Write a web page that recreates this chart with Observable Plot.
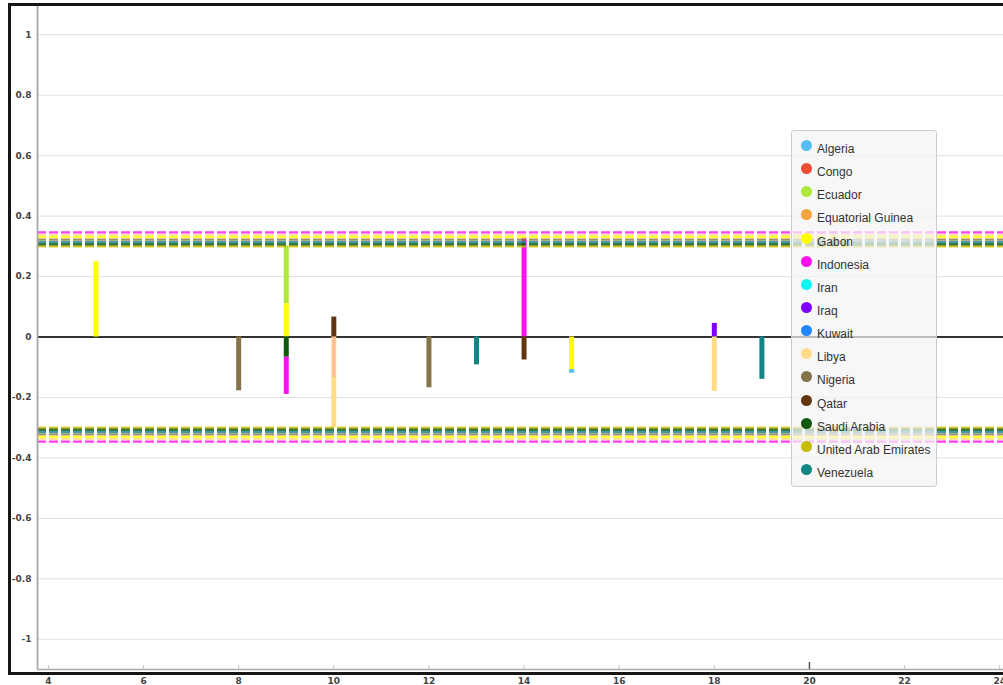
<!DOCTYPE html>
<html>
<head>
<meta charset="utf-8">
<script src="https://cdn.jsdelivr.net/npm/d3@7"></script>
<script src="https://cdn.jsdelivr.net/npm/@observablehq/plot@0.6"></script>
<style>
  body { margin: 0; background: #fff; }
  #wrap { position: relative; width: 1003px; height: 685px; overflow: hidden; }
  #wrap svg { position: absolute; left: 0; top: 0; }
  #frame { position: absolute; left: 8px; top: 3px; width: 1010px; height: 672px;
           border: 3px solid #161616; box-sizing: border-box; pointer-events: none; }
  #legend { position: absolute; left: 791px; top: 130px; width: 146px; height: 357px;
            background: rgba(244,244,244,0.72); border: 1px solid #cdcdcd; border-radius: 3px;
            box-sizing: border-box; font: 12px "Liberation Sans", Arial, sans-serif; color: #333; }
  .item { position: absolute; left: 0; width: 100%; height: 16px; }
  .dot { position: absolute; left: 9px; width: 11px; height: 11px; border-radius: 50%; }
  .lbl { position: absolute; left: 25px; white-space: nowrap; line-height: 16px; }
</style>
</head>
<body>
<div id="wrap">
  <div id="chart"></div>
  <div id="frame"></div>
  <div id="legend"></div>
</div>
<script>
// Member countries and their series colours
const countries = ["Algeria", "Congo", "Ecuador", "Equatorial Guinea", "Gabon", "Indonesia", "Iran",
  "Iraq", "Kuwait", "Libya", "Nigeria", "Qatar", "Saudi Arabia", "United Arab Emirates", "Venezuela"];
const colors = ["#55bff5", "#ef4b35", "#aee83c", "#f4a43c", "#ffff00", "#ff10f0", "#10f4f4",
  "#8000ff", "#1f86ff", "#ffdc88", "#857349", "#64360f", "#0f560f", "#c7bd00", "#128585"];

// Bar segments: position, country, segment start and end
const segX       = [5, 8, 9, 9, 9, 9, 10, 10, 12, 13, 14, 14, 15, 15, 18, 18, 19];
const segCountry = ["Gabon", "Nigeria", "Ecuador", "Gabon", "Saudi Arabia", "Indonesia", "Qatar", "Libya",
  "Nigeria", "Venezuela", "Indonesia", "Qatar", "Gabon", "Algeria", "Iraq", "Libya", "Venezuela"];
const segFrom    = [0, 0, 0.11, 0, 0, -0.067, 0, 0, 0, 0, 0, 0, 0, -0.108, 0, 0, 0];
const segTo      = [0.25, -0.178, 0.302, 0.11, -0.067, -0.19, 0.066, -0.30, -0.168, -0.092, 0.325, -0.076,
  -0.108, -0.12, 0.045, -0.18, -0.14];

// Faint series drawn on top of the bar at 10
const ghostX       = [10];
const ghostCountry = ["Indonesia"];
const ghostTo      = [-0.135];

// Symmetric limits (±) per country
const limitCountry = ["United Arab Emirates", "Saudi Arabia", "Venezuela", "Nigeria", "Gabon", "Libya", "Indonesia"];
const limitValue   = [0.300, 0.307, 0.314, 0.322, 0.331, 0.338, 0.346];

// Axis ticks
const yTicks = [-1, -0.8, -0.6, -0.4, -0.2, 0, 0.2, 0.4, 0.6, 0.8, 1];
const xTicks = [4, 6, 8, 10, 12, 14, 16, 18, 20, 22, 24];
const cursorX = [20];

const xDomain = [3.77, 24.08];
const yDomain = [-1.1, 1.1];

const segments = segX.map((x, i) => ({x, country: segCountry[i], from: segFrom[i], to: segTo[i]}));
const ghosts = ghostX.map((x, i) => ({x, country: ghostCountry[i], from: 0, to: ghostTo[i]}));
const limits = limitCountry.flatMap((c, i) => [
  {country: c, value: limitValue[i]},
  {country: c, value: -limitValue[i]}
]);

const W = 1003, H = 685, mT = 4, mB = 16;
const plotH = H - mT - mB;

const chart = Plot.plot({
  width: W, height: H,
  marginTop: mT, marginBottom: mB, marginLeft: 37, marginRight: 0,
  x: {domain: xDomain, label: null},
  y: {domain: yDomain, label: null},
  color: {domain: countries, range: colors},
  style: {background: "transparent", color: "#444", fontFamily: "DejaVu Sans, sans-serif"},
  marks: [
    Plot.gridY({ticks: yTicks, stroke: "#e0e0e0", strokeOpacity: 1, strokeWidth: 1}),
    Plot.ruleY([0], {stroke: "#333", strokeWidth: 2}),
    Plot.ruleX(segments, {x: "x", y1: "from", y2: "to", stroke: "country", strokeWidth: 5}),
    Plot.ruleX(ghosts, {x: "x", y1: "from", y2: "to", stroke: "country", strokeWidth: 3, strokeOpacity: 0.15}),
    Plot.ruleY(limits, {y: "value", stroke: "country", strokeWidth: 2.4, strokeOpacity: 0.8,
      strokeDasharray: "9,3"}),
    Plot.ruleX([xDomain[0]], {stroke: "#a8a8a8", strokeWidth: 1.8}),
    Plot.ruleY([yDomain[0]], {stroke: "#a8a8a8", strokeWidth: 1.5}),
    Plot.ruleX(xTicks, {stroke: "#c4c4c4", insetTop: plotH - 4}),
    Plot.ruleX(cursorX, {stroke: "#555", strokeWidth: 1.5, insetTop: plotH - 7}),
    Plot.axisY({ticks: yTicks, tickSize: 0, tickPadding: 6, fontSize: 9, fontWeight: "bold", label: null,
      tickFormat: d => String(Math.round(d * 10) / 10)}),
    Plot.axisX({ticks: xTicks, tickSize: 0, tickPadding: 8, fontSize: 9, fontWeight: "bold", label: null,
      tickFormat: d => String(d)})
  ]
});
document.getElementById("chart").appendChild(chart);

// Legend built from the same country/colour lists
const legend = document.getElementById("legend");
countries.forEach((c, i) => {
  const item = document.createElement("div");
  item.className = "item";
  item.style.top = (10 + i * 23.14) + "px";
  const dot = document.createElement("span");
  dot.className = "dot";
  dot.style.top = "-1px";
  dot.style.background = colors[i];
  const lbl = document.createElement("span");
  lbl.className = "lbl";
  lbl.style.top = "0px";
  lbl.textContent = c;
  item.appendChild(dot);
  item.appendChild(lbl);
  legend.appendChild(item);
});
</script>
</body>
</html>
